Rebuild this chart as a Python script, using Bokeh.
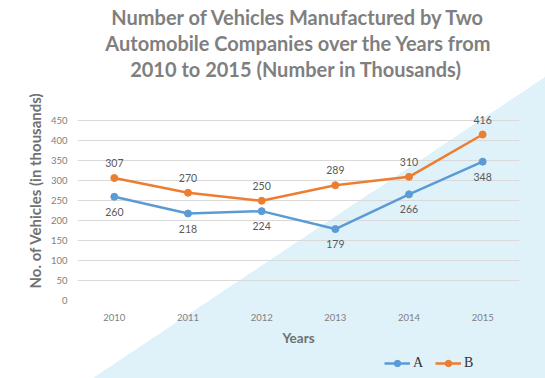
from bokeh.plotting import figure
from bokeh.models import (ColumnDataSource, FactorRange, FixedTicker, Title, Legend, LegendItem, Range1d)
from bokeh.layouts import column
from bokeh.core.properties import value
from bokeh.embed import file_html
from bokeh.resources import INLINE

years = ["2010", "2011", "2012", "2013", "2014", "2015"]
series_a = [260, 218, 224, 179, 266, 348]
series_b = [307, 270, 250, 289, 310, 416]
y_ticks = [0, 50, 100, 150, 200, 250, 300, 350, 400, 450]
title_lines = ["Number of Vehicles Manufactured by Two",
               "Automobile Companies over the Years from",
               "2010 to 2015  (Number in Thousands)"]
legend_labels = ["A", "B"]

BLUE = "#5B9BD5"
ORANGE = "#ED7D31"
FONT = "Lato"

W = 545
H_MAIN, H_LEG = 348, 30

p = figure(x_range=FactorRange(*years), y_range=(0, 551.4), width=W, height=H_MAIN,
           output_backend="svg", toolbar_location=None, title=None,
           min_border_left=77, min_border_right=26, min_border_bottom=45, min_border_top=80)
p.outline_line_color = None
p.background_fill_color = None
p.border_fill_color = None

src = ColumnDataSource(dict(x=years, a=series_a, b=series_b,
                            at=[str(v) for v in series_a], bt=[str(v) for v in series_b]))

p.line("x", "a", source=src, line_color=BLUE, line_width=2.5)
p.scatter("x", "a", source=src, size=7, fill_color=BLUE, line_color=BLUE)
p.line("x", "b", source=src, line_color=ORANGE, line_width=2.5)
p.scatter("x", "b", source=src, size=7, fill_color=ORANGE, line_color=ORANGE)

p.text("x", "b", text="bt", source=src, text_font=value(FONT), text_font_size="10.5px",
       text_color="#595959", text_align="center", text_baseline="middle", y_offset=-15)
p.text("x", "a", text="at", source=src, text_font=value(FONT), text_font_size="10.5px",
       text_color="#595959", text_align="center", text_baseline="middle", y_offset=15)

# axes
p.yaxis.ticker = FixedTicker(ticks=y_ticks)
p.yaxis.axis_line_color = None
p.yaxis.major_tick_line_color = None
p.yaxis.minor_tick_line_color = None
p.yaxis.major_tick_out = 0
p.yaxis.major_tick_in = 0
p.yaxis.major_label_text_font = FONT
p.yaxis.major_label_text_font_size = "9.5px"
p.yaxis.major_label_text_color = "#808080"
p.yaxis.major_label_standoff = 10
p.yaxis.axis_label = "No. of Vehicles (in thousands)"
p.yaxis.axis_label_text_font = FONT
p.yaxis.axis_label_text_font_size = "15px"
p.yaxis.axis_label_text_font_style = "bold"
p.yaxis.axis_label_text_color = "#707070"
p.yaxis.axis_label_standoff = 4

p.xaxis.axis_line_color = None
p.xaxis.major_tick_line_color = None
p.xaxis.major_tick_out = 0
p.xaxis.major_tick_in = 0
p.xaxis.major_label_text_font = FONT
p.xaxis.major_label_text_font_size = "9.5px"
p.xaxis.major_label_text_color = "#808080"
p.xaxis.major_label_standoff = 13
p.xaxis.axis_label = "Years"
p.xaxis.axis_label_text_font = FONT
p.xaxis.axis_label_text_font_size = "13.5px"
p.xaxis.axis_label_text_font_style = "bold"
p.xaxis.axis_label_text_color = "#707070"
p.xaxis.axis_label_standoff = 6

p.xgrid.grid_line_color = None
p.ygrid.grid_line_color = "#D9D9D9"
p.ygrid.grid_line_width = 1
p.ygrid.ticker = FixedTicker(ticks=y_ticks)

# title lines (first added sits nearest the plot)
for line in reversed(title_lines):
    p.add_layout(Title(text=line, align="center", text_font=FONT, text_font_size="20px",
                       text_font_style="bold", text_color="#7f7f7f", standoff=0), "above")

# legend strip below the chart (its frame lines up with the chart's frame)
q = figure(width=W, height=H_LEG, output_backend="svg", toolbar_location=None,
           x_range=Range1d(1, 2), y_range=Range1d(1, 2),
           x_axis_location=None, y_axis_location=None,
           min_border_left=0, min_border_right=0, min_border_top=0, min_border_bottom=0)
q.outline_line_color = None
q.background_fill_color = None
q.border_fill_color = None
q.grid.grid_line_color = None
items = []
for lab, col in zip(legend_labels, [BLUE, ORANGE]):
    r1 = q.line(x=[0, 0.5], y=[0, 0], line_color=col, line_width=2.5)
    r2 = q.scatter(x=[0], y=[0], size=7, fill_color=col, line_color=col)
    items.append(LegendItem(label=lab, renderers=[r1, r2]))
legend = Legend(items=items, orientation="horizontal", location=(307, 7),
                label_text_font="Liberation Serif", label_text_font_size="14px",
                label_text_color="#333333", glyph_width=26, glyph_height=16,
                label_standoff=3, label_width=20, spacing=2,
                background_fill_alpha=0, border_line_color=None, padding=0, margin=0)
q.add_layout(legend, "center")

layout = column(p, q, spacing=0)
layout.styles = {"background": "linear-gradient(146.34deg, #ffffff 59.37%, #DFF1F9 59.37%)"}

open("out.html", "w").write(file_html(layout, INLINE))
